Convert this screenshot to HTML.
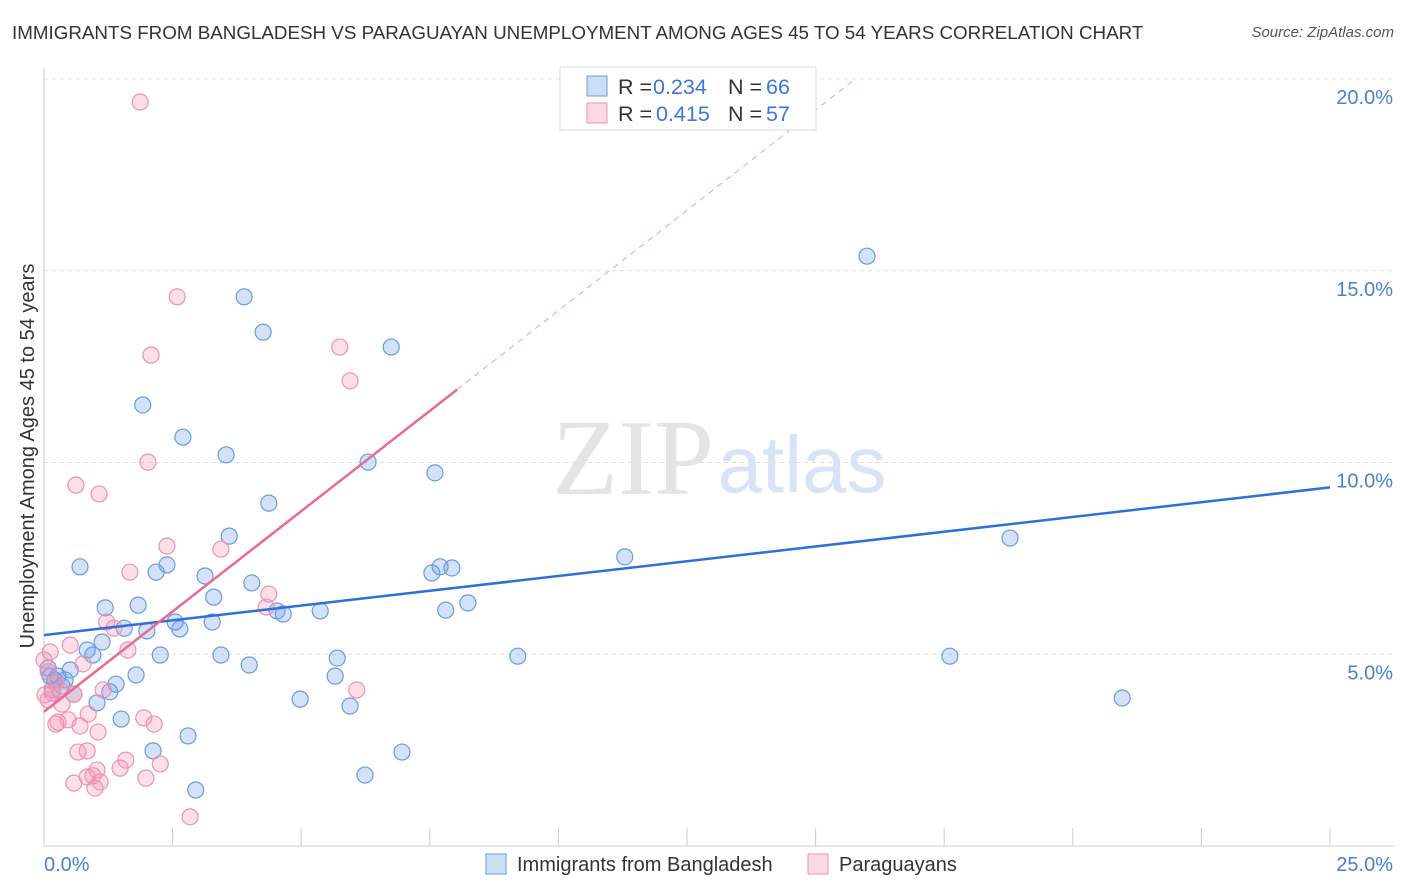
<!DOCTYPE html>
<html><head><meta charset="utf-8">
<style>
body{margin:0;background:#fff;font-family:"Liberation Sans",sans-serif;}
#wrap{position:relative;width:1406px;height:892px;overflow:hidden;}
.title{position:absolute;left:12px;top:22px;font-size:18.8px;color:#333;}
.source{position:absolute;right:12px;top:24px;font-size:15px;color:#555;font-style:italic;}
</style></head>
<body>
<div id="wrap">
<div class="title">IMMIGRANTS FROM BANGLADESH VS PARAGUAYAN UNEMPLOYMENT AMONG AGES 45 TO 54 YEARS CORRELATION CHART</div>
<div class="source">Source: ZipAtlas.com</div>
<svg id="svg" width="1406" height="892" style="position:absolute;left:0;top:0"></svg>
</div>
<script>
const blueX=[16.0,3.89,4.26,6.75,1.92,2.70,3.54,6.30,7.60,4.37,3.60,0.70,2.39,2.18,3.13,7.70,7.93,7.54,11.29,18.78,4.04,3.30,1.19,1.83,4.53,4.65,5.37,7.81,8.24,2.55,3.27,2.64,1.56,2.00,1.13,0.84,0.95,2.26,3.44,5.70,9.21,17.61,3.99,0.51,0.27,0.12,1.79,5.66,1.40,1.28,0.35,0.58,4.98,5.95,20.96,1.03,1.50,2.80,2.12,6.96,6.24,2.95,0.08,0.21,0.41,0.16];
const blueY=[15.38,14.32,13.40,13.01,11.50,10.66,10.20,10.01,9.73,8.94,8.08,7.28,7.33,7.14,7.04,7.28,7.25,7.12,7.54,8.03,6.86,6.49,6.21,6.28,6.13,6.05,6.13,6.15,6.34,5.84,5.84,5.66,5.68,5.61,5.32,5.11,4.98,4.98,4.98,4.90,4.95,4.95,4.72,4.59,4.43,4.43,4.46,4.43,4.22,4.02,4.17,3.96,3.83,3.65,3.86,3.73,3.31,2.87,2.48,2.45,1.85,1.46,4.64,4.33,4.33,4.07];
const pinkX=[1.87,2.59,2.08,5.75,5.95,2.02,0.62,1.07,2.39,3.44,1.67,4.37,4.32,1.22,1.36,0.51,1.63,0.12,0.00,0.76,0.08,0.23,0.16,1.15,6.08,0.58,0.35,0.86,0.27,0.47,0.70,1.94,2.14,1.05,0.23,0.84,0.66,1.59,2.26,1.03,0.95,1.48,0.84,1.98,1.09,0.58,0.99,2.84,0.02,0.08,0.31];
const pinkY=[19.40,14.32,12.80,13.01,12.13,10.01,9.41,9.18,7.82,7.74,7.14,6.57,6.23,5.84,5.68,5.24,5.11,5.06,4.85,4.75,4.54,4.25,3.99,4.07,4.07,3.96,3.70,3.44,3.23,3.29,3.13,3.34,3.18,2.97,3.18,2.48,2.45,2.24,2.14,1.98,1.83,2.03,1.80,1.77,1.67,1.64,1.51,0.76,3.94,3.81,4.07];
const yTicks=[5,10,15,20];
const yTickLabels=["5.0%","10.0%","15.0%","20.0%"];
const blueFit=[5.5,9.35];
const pinkFit=[3.5,11.9,8.03];
const NS="http://www.w3.org/2000/svg";
const svg=document.getElementById('svg');
const X=v=>44+v*51.44, Y=v=>846-v*38.35;
function el(t,a,p){const e=document.createElementNS(NS,t);for(const k in a)e.setAttribute(k,a[k]);(p||svg).appendChild(e);return e;}
yTicks.forEach((t,i)=>{
 const g=el('line',{x1:44,x2:1394,y1:Y(t),y2:Y(t),stroke:'#ddd','stroke-dasharray':'4,4'});
 
 
 const tx=el('text',{x:1393,y:Y(t)+25,'text-anchor':'end','font-size':20,fill:'#4a7fd6'});
 tx.textContent=yTickLabels[i];
 
 
});
el('line',{x1:44,x2:44,y1:68,y2:846,stroke:'#ccc'});
el('line',{x1:44,x2:1394,y1:846,y2:846,stroke:'#ccc'});
for(let i=0;i<=10;i++){const t=el('line',{x1:X(i*2.5),x2:X(i*2.5),y1:828,y2:846,stroke:'#ccc'});
 
 }
let t1=el('text',{x:44,y:871,'font-size':20,fill:'#4a7fd6'});t1.textContent='0.0%';

let t2=el('text',{x:1393,y:871,'font-size':20,fill:'#4a7fd6','text-anchor':'end'});t2.textContent='25.0%';

let yt=el('text',{x:34,y:456,'font-size':20,fill:'#333','text-anchor':'middle',transform:'rotate(-90 34 456)'});
yt.textContent='Unemployment Among Ages 45 to 54 years';

let w1=el('text',{x:633,y:494,'font-size':108,fill:'#e4e4e4','font-family':'Liberation Serif','text-anchor':'middle'});w1.textContent='ZIP';

let w2=el('text',{x:802,y:492,'font-size':80,fill:'#d8e4f5','text-anchor':'middle'});w2.textContent='atlas';

blueX.forEach((v,i)=>{const c=el('circle',{cx:X(v),cy:Y(blueY[i]),r:8,fill:'rgba(110,160,230,0.3)',stroke:'#6a9ae0','stroke-width':1.2});
 
 });
pinkX.forEach((v,i)=>{const c=el('circle',{cx:X(v),cy:Y(pinkY[i]),r:8,fill:'rgba(245,150,180,0.3)',stroke:'#ec92b0','stroke-width':1.2});
 
 });
let bl=el('line',{x1:X(0),y1:Y(blueFit[0]),x2:X(25),y2:Y(blueFit[1]),stroke:'#2f6fd6','stroke-width':2.5});

const slope=(pinkFit[1]-pinkFit[0])/pinkFit[2];
let pl=el('line',{x1:X(0),y1:Y(pinkFit[0]),x2:X(pinkFit[2]),y2:Y(pinkFit[1]),stroke:'#e86a95','stroke-width':2.5});

const xe=(20-pinkFit[0])/slope;
let pd=el('line',{x1:X(pinkFit[2]),y1:Y(pinkFit[1]),x2:X(xe),y2:Y(20),stroke:'#e8a0b8','stroke-width':1,'stroke-dasharray':'6,5'});

let lg=el('g',{});
el('rect',{x:560,y:67,width:256,height:63,fill:'#fff',stroke:'#ddd'},lg);
el('rect',{x:587,y:76,width:20,height:20,fill:'rgba(110,160,230,0.35)',stroke:'#6a9ae0'},lg);
el('rect',{x:587,y:103,width:20,height:20,fill:'rgba(245,150,180,0.35)',stroke:'#ec92b0'},lg);
function lt(x,y,s,c){const t=el('text',{x:x,y:y,'font-size':21.5,fill:c},lg);t.textContent=s;return t;}
lt(618,94,'R = ','#333');lt(653,94,'0.234','#3a78d8');lt(728,94,'N = ','#333');lt(766,94,'66','#3a78d8');
lt(618,121,'R = ','#333');lt(656,121,'0.415','#3a78d8');lt(728,121,'N = ','#333');lt(766,121,'57','#3a78d8');
let bg=el('g',{});
el('rect',{x:486,y:854,width:20,height:20,fill:'rgba(110,160,230,0.35)',stroke:'#6a9ae0'},bg);
el('rect',{x:808,y:854,width:20,height:20,fill:'rgba(245,150,180,0.35)',stroke:'#ec92b0'},bg);
let b1=el('text',{x:517,y:871,'font-size':20,fill:'#333'},bg);b1.textContent='Immigrants from Bangladesh';
let b2=el('text',{x:839,y:871,'font-size':20,fill:'#333'},bg);b2.textContent='Paraguayans';
</script>
</body></html>
